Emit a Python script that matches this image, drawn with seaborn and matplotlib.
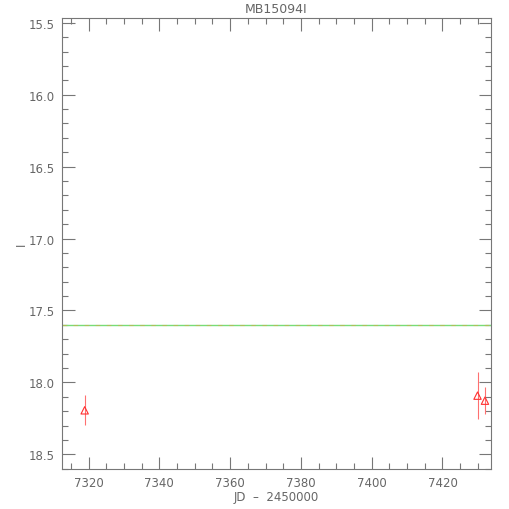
import matplotlib
matplotlib.use("Agg")
import matplotlib.pyplot as plt
import numpy as np
import pandas as pd
import seaborn as sns
from matplotlib.ticker import MultipleLocator, FormatStrFormatter

# light curve points
jd = [7318.9, 7429.9, 7432.0]
mag = [18.194, 18.092, 18.127]
mag_err = [0.104, 0.165, 0.093]
baseline = 17.604

title = "MB15094I"
xlabel = "JD  \u2013  2450000"
ylabel = "I"

df = pd.DataFrame({"jd": jd, "mag": mag, "err": mag_err})

sns.set_style("white")
plt.rcParams["font.family"] = ["DejaVu Sans"]
gray = "#777777"

fig = plt.figure(figsize=(5.1, 5.1), dpi=100)
ax = fig.add_axes([0.1216, 0.0784, 0.8411, 0.8843])

ax.errorbar(df["jd"], df["mag"], yerr=df["err"], fmt="none", ecolor="#ff7070",
            elinewidth=0.8, capsize=0, zorder=2)
sns.scatterplot(data=df, x="jd", y="mag", marker="^", s=28, facecolor="none",
                edgecolor="#ff3030", linewidth=0.8, ax=ax, zorder=3)

ax.axhline(baseline, color="#77dd77", linewidth=1.0, zorder=1)
ax.axhline(baseline, color="#e8a040", linewidth=0.8, linestyle=(0, (4, 6)),
           alpha=0.5, zorder=1)

ax.set_xlim(7312.5, 7433.7)
ax.set_ylim(18.602, 15.467)
ax.xaxis.set_major_locator(MultipleLocator(20))
ax.xaxis.set_minor_locator(MultipleLocator(5))
ax.yaxis.set_major_locator(MultipleLocator(0.5))
ax.yaxis.set_minor_locator(MultipleLocator(0.1))
ax.yaxis.set_major_formatter(FormatStrFormatter("%.1f"))

ax.tick_params(which="both", direction="in", top=True, right=True,
               bottom=True, left=True,
               color=gray, labelcolor="#666666", labelsize=8.5, width=0.8)
ax.tick_params(which="major", length=9, pad=5)
ax.tick_params(which="minor", length=4.5)
for s in ax.spines.values():
    s.set_color(gray)
    s.set_linewidth(0.8)

ax.set_title(title, color="#666666", fontsize=9, pad=4)
ax.set_xlabel(xlabel, color="#666666", fontsize=8.5, labelpad=1)
ax.set_ylabel(ylabel, color="#666666", fontsize=8.5)
ax.yaxis.set_label_coords(-0.079, 0.5)

fig.savefig("out.png", dpi=100)
